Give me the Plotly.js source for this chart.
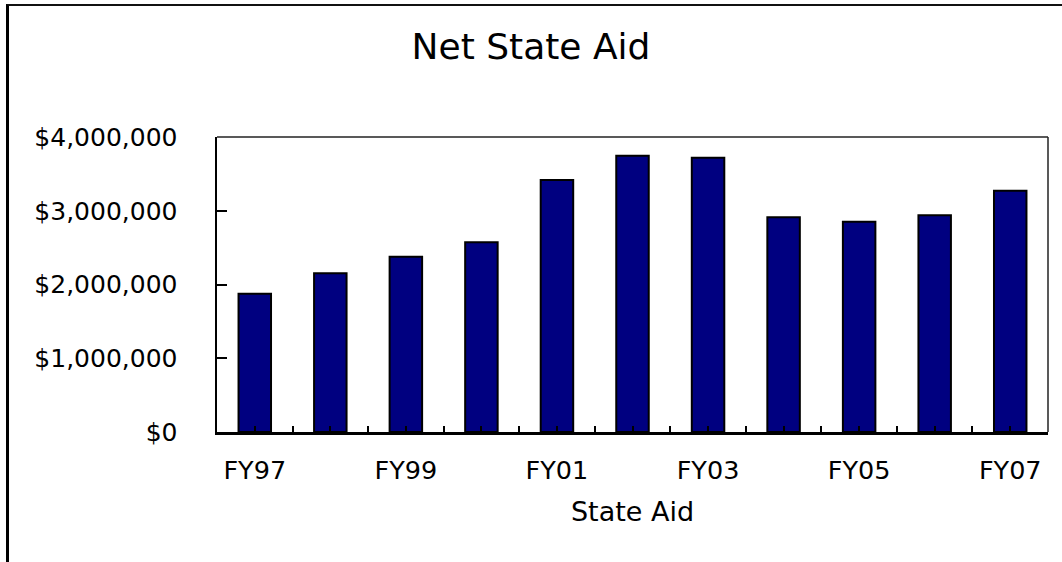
<!DOCTYPE html>
<html>
<head>
<meta charset="utf-8">
<script src="https://cdn.plot.ly/plotly-3.0.1.min.js"></script>
<style>
html,body{margin:0;padding:0;background:#fff;overflow:hidden;}
#wrap{position:relative;width:1062px;height:562px;}
#chart{position:absolute;left:0;top:0;width:1062px;height:562px;}
#frame{position:absolute;left:6px;top:4px;width:2000px;height:2000px;border-left:3px solid #000;border-top:2.5px solid #111;pointer-events:none;}
</style>
</head>
<body>
<div id="wrap"><div id="chart"></div><div id="frame"></div></div>
<script>
const categories = ["FY97","FY98","FY99","FY00","FY01","FY02","FY03","FY04","FY05","FY06","FY07"];
const stateAid = [1875000, 2152000, 2377000, 2572000, 3417000, 3747000, 3720000, 2911000, 2852000, 2938000, 3272000];
const yTicks = [0, 1000000, 2000000, 3000000, 4000000];
const yTickLabels = ["$0", "$1,000,000", "$2,000,000", "$3,000,000", "$4,000,000"];

const idx = categories.map((c, i) => i);
const tickvals = [];
const ticktext = [];
for (let i = 0; i < categories.length; i++) {
  tickvals.push(i - 0.5); ticktext.push("");
  tickvals.push(i); ticktext.push(i % 2 === 0 ? categories[i] : "");
}
tickvals.push(categories.length - 0.5); ticktext.push("");

const font = "DejaVu Sans, Arial, sans-serif";

const trace = {
  type: "bar",
  x: idx,
  y: stateAid,
  width: 0.43,
  marker: {color: "#000080", line: {color: "#000", width: 2}},
  hoverinfo: "skip"
};

const layout = {
  width: 1062, height: 562,
  margin: {l: 217, r: 14, t: 137, b: 130, pad: 0},
  paper_bgcolor: "#fff", plot_bgcolor: "#fff",
  showlegend: false,
  title: {text: "Net State Aid", font: {family: font, size: 36, color: "#000"},
          x: 0.5, xref: "container", xanchor: "center", y: 0.918, yref: "container", yanchor: "middle"},
  xaxis: {
    range: [-0.5, categories.length - 0.5],
    tickmode: "array", tickvals: tickvals, ticktext: ticktext,
    ticks: "inside", ticklen: 6, tickwidth: 2, tickcolor: "#000",
    showline: true, linecolor: "#000", linewidth: 2.5,
    showgrid: false, zeroline: false,
    tickfont: {family: font, size: 25.5, color: "#000"},
    ticklabelstandoff: 14,
    title: {text: "State Aid", font: {family: font, size: 27, color: "#000"}, standoff: 18},
    fixedrange: true
  },
  yaxis: {
    range: [0, 4000000],
    tickmode: "array", tickvals: yTicks, ticktext: yTickLabels,
    ticks: "inside", ticklen: 10, tickwidth: 2, tickcolor: "#000",
    showline: true, linecolor: "#000", linewidth: 2.5,
    showgrid: false, zeroline: false,
    tickfont: {family: font, size: 25, color: "#000"},
    ticklabelstandoff: 32,
    fixedrange: true
  },
  shapes: [
    {type: "line", xref: "paper", yref: "paper", x0: 0, x1: 1, y0: 1, y1: 1, line: {color: "#222", width: 1.5}},
    {type: "line", xref: "paper", yref: "paper", x0: 1, x1: 1, y0: 0, y1: 1, line: {color: "#222", width: 1.5}}
  ]
};

Plotly.newPlot("chart", [trace], layout, {displayModeBar: false, staticPlot: true});
</script>
</body>
</html>
